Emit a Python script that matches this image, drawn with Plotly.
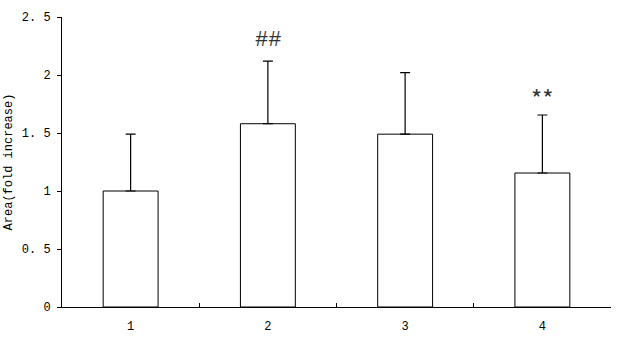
import plotly.graph_objects as go

categories = ["1", "2", "3", "4"]
means = [1.0, 1.58, 1.49, 1.155]
errors = [0.49, 0.54, 0.53, 0.50]
marks = ["", "##", "", "**"]
yticks = [0, 0.5, 1, 1.5, 2, 2.5]
yticktext = ["0", "0. 5", "1", "1. 5", "2", "2. 5"]

mark_fonts = {"##": ("Liberation Mono", 22, 6), "**": ("Noto Sans CJK SC", 24, -2)}

fig = go.Figure()
fig.add_trace(go.Bar(
    x=categories, y=means, width=0.4,
    marker=dict(color="white", line=dict(color="black", width=1)),
    error_y=dict(type="data", array=errors, arrayminus=[0]*len(errors), symmetric=False,
                 color="black", thickness=1.2, width=5),
    showlegend=False,
))
for i, (m, e, t) in enumerate(zip(means, errors, marks)):
    if t:
        fam, sz, ys = mark_fonts[t]
        fig.add_annotation(x=i, y=m + e, text=t, showarrow=False, yanchor="bottom", yshift=ys,
                           font=dict(family=fam, size=sz, color="#333"))

fig.update_layout(
    width=618, height=341, margin=dict(l=62, r=7, t=17, b=34),
    paper_bgcolor="white", plot_bgcolor="white",
    font=dict(family="Liberation Mono", size=12, color="black"),
    bargap=0.6,
)
fig.update_xaxes(type="category", range=[-0.5, 3.5], showline=True, linecolor="black", linewidth=1,
                 ticks="inside", tickson="boundaries", ticklen=4, tickcolor="black",
                 ticklabelstandoff=8,
                 showgrid=False, zeroline=False)
fig.update_yaxes(range=[0, 2.5], tickvals=yticks, ticktext=yticktext, showline=True,
                 linecolor="black", linewidth=1, ticks="outside", ticklen=4, tickcolor="black",
                 ticklabelstandoff=4,
                 showgrid=False, zeroline=False,
                 title=dict(text="Area(fold increase)", font=dict(size=12), standoff=6))
fig.write_html("out.html")
